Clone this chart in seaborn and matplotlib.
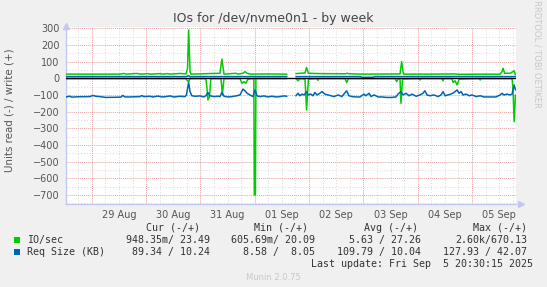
import numpy as np
import pandas as pd
import matplotlib
matplotlib.use('Agg')
import matplotlib.pyplot as plt
import seaborn as sns
from matplotlib.ticker import MultipleLocator, FixedLocator
from matplotlib.patches import Rectangle

# time axis: hours since 28 Aug 00:00, NaN marks the data gap on 01 Sep
io_write_t = [12.6, 36.4, 38.2, 39.1, 43.9, 45.7, 48.8, 49.7, 54.1, 55.0, 57.6, 58.5,
              62.1, 62.9, 65.6, 66.3, 66.8, 67.4, 67.8, 80.6, 81.5, 82.4, 87.7, 88.6,
              90.8, 91.7, 92.6, 93.9, 102.7, 108.5, 110.2, 112.0,
              114.2, 116.0, 118.2, 118.9, 119.7, 124.8, 135.9, 136.8, 137.6, 143.4,
              160.2, 160.9, 161.7, 173.4, 184.5, 185.8, 204.4, 205.3, 205.7, 206.4,
              208.8, 210.1, 210.6, 211.2]
io_write = [25, 25, 29, 25, 29, 25, 28, 25, 28, 25, 28, 25,
            28, 29, 26, 60, 290, 40, 25, 30, 115, 25, 30, 25,
            30, 40, 30, 25, 26, 25, 25, np.nan,
            28, 30, 32, 65, 30, 28, 27, 30, 27, 25,
            26, 100, 25, 25, 26, 24, 25, 40, 60, 30,
            30, 40, 45, 20]

io_read_t = [12.6, 65.6, 66.3, 66.8, 67.4, 74.4, 74.9, 75.3, 76.0, 76.6, 81.1, 81.7,
             82.4, 89.5, 90.3, 91.2, 92.1, 93.0, 95.6, 95.8, 96.3, 96.5, 110.2, 112.0,
             114.2, 115.1, 116.0, 118.2, 118.9, 119.7, 123.5, 123.9, 124.4, 135.9,
             136.6, 137.4, 158.0, 158.7, 159.3, 160.2, 160.6, 161.3, 168.6, 169.0,
             169.5, 178.7, 179.2, 179.6, 183.2, 183.6, 184.5, 185.4, 186.3, 195.1,
             195.6, 196.0, 209.7, 210.1, 210.6, 211.2]
io_read = [-2, -2, -15, -20, -2, -2, -60, -130, -110, -2, -2, -100,
           -2, -2, -30, -20, -30, -5, -2, -700, -700, -2, -2, np.nan,
           -2, -15, -2, -5, -190, -5, -2, -12, -2, -2,
           -25, -2, -2, -20, -2, -5, -150, -5, -2, -10,
           -2, -2, -15, -2, -2, -25, -15, -40, -5, -2,
           -10, -2, -2, -60, -260, -100]

req_write_t = [12.6, 65.6, 66.8, 67.4, 110.2, 112.0, 114.2, 142.5, 143.4, 148.2, 149.1, 211.2]
req_write = [10, 10, 15, 10, 10, np.nan, 10, 10, 6, 6, 10, 10]

req_read_t = [12.6, 14.3, 15.2, 17.9, 23.2, 24.5, 25.8, 27.6, 30.2, 34.2, 36.9, 37.7,
              38.6, 40.8, 45.3, 46.1, 47.0, 49.7, 51.0, 53.2, 55.0, 56.8, 58.5, 60.3,
              62.9, 65.2, 65.8, 66.8, 67.4, 68.2, 69.6, 71.8, 73.5, 74.4, 75.3, 76.2,
              78.0, 79.7, 80.6, 81.5, 82.4, 84.2, 85.9, 87.7, 89.5, 90.8, 91.7, 92.6,
              93.9, 95.2, 96.1, 97.0, 98.3, 100.1, 101.8, 103.6, 105.4, 107.1, 108.9,
              110.2, 112.0,
              114.2, 115.1, 116.0, 116.9, 117.8, 118.9, 119.5, 120.8, 121.7, 122.6,
              123.5, 124.8, 125.7, 127.0, 128.4, 129.7, 131.0, 132.8, 134.5, 136.6,
              137.6, 139.0, 140.7, 142.5, 144.3, 145.1, 146.5, 147.4, 148.7, 150.5,
              152.2, 154.0, 156.6, 158.4, 159.3, 160.6, 161.5, 162.8, 164.2, 165.5,
              167.3, 169.0, 170.3, 171.2, 172.1, 173.4, 175.2, 177.0, 178.3, 179.2,
              180.1, 181.4, 182.7, 184.1, 185.4, 186.3, 187.2, 188.0, 189.4, 190.7,
              192.0, 193.8, 195.6, 197.3, 200.0, 202.6, 204.4, 205.3, 206.1, 207.5,
              208.8, 209.7, 210.6, 211.2]
req_read = [-112, -108, -113, -111, -110, -103, -108, -110, -115, -114, -113, -103,
            -112, -112, -110, -104, -110, -108, -112, -107, -112, -110, -106, -112,
            -108, -110, -100, -25, -80, -105, -108, -106, -112, -105, -85, -105,
            -110, -108, -110, -85, -108, -112, -110, -106, -100, -65, -75, -90,
            -100, -110, -70, -105, -110, -106, -112, -108, -112, -110, -106,
            -108, np.nan,
            -105, -90, -105, -95, -100, -80, -100, -95, -105, -85,
            -100, -90, -80, -95, -100, -105, -110, -100, -110, -75,
            -105, -110, -112, -112, -95, -105, -90, -110, -100, -112,
            -112, -115, -115, -112, -95, -80, -100, -90, -105, -95,
            -108, -100, -90, -75, -100, -105, -100, -110, -100, -80,
            -105, -100, -95, -85, -70, -90, -80, -100, -95, -105,
            -100, -110, -105, -112, -112, -112, -100, -90, -100, -95,
            -100, -95, -40, -70]

day_labels = ['29 Aug', '30 Aug', '31 Aug', '01 Sep', '02 Sep', '03 Sep', '04 Sep', '05 Sep']
label_hours = [36, 60, 84, 108, 132, 156, 180, 204]

legend_names = ['IO/sec', 'Req Size (KB)']
cur_vals = ['948.35m/ 23.49', '89.34 / 10.24']
min_vals = ['605.69m/ 20.09', '8.58 /  8.05']
avg_vals = ['5.63 / 27.26', '109.79 / 10.04']
max_vals = ['2.60k/670.13', '127.93 / 42.07']

GREEN = '#00cc00'
BLUE = '#0066b3'

sns.set_style('white')
plt.rcParams['font.family'] = ['DejaVu Sans']


def frame(t, v):
    df = pd.DataFrame({'hours': t, 'value': v})
    df['seg'] = df['value'].isna().cumsum()
    return df.dropna()


W, H = 547, 287
fig = plt.figure(figsize=(W / 100, H / 100), dpi=100, facecolor='#f0f0f0')
ax = fig.add_axes([66 / W, 1 - 204 / H, (515.7 - 66) / W, (204 - 27) / H])
ax.set_facecolor('white')

for t, v, c in [(io_write_t, io_write, GREEN), (io_read_t, io_read, GREEN),
                (req_write_t, req_write, BLUE), (req_read_t, req_read, BLUE)]:
    sns.lineplot(data=frame(t, v), x='hours', y='value', units='seg', estimator=None,
                 color=c, lw=1.1, ax=ax, legend=False, zorder=3)

ax.axhline(0, color='black', lw=1.0, zorder=4)

ax.set_xlim(12.6, 211.3)
ax.set_ylim(-755, 308)
ax.set_xlabel('')
ax.set_ylabel('')

# grids: red at day / 100 units, grey at 6h / 50 units
ax.xaxis.set_major_locator(MultipleLocator(24))
ax.xaxis.set_minor_locator(MultipleLocator(6))
ax.yaxis.set_major_locator(MultipleLocator(100))
ax.yaxis.set_minor_locator(MultipleLocator(50))
ax.set_axisbelow(True)
ax.grid(which='minor', color='#d8d8d8', lw=0.7, ls=(0, (1, 2)))
ax.grid(which='major', color='#e8a0a0', lw=0.7, ls=(0, (1, 1)))
ax.tick_params(axis='x', which='major', length=3, color='#e08080', labelbottom=False)
ax.tick_params(axis='x', which='minor', length=2, color='#c8c8c8')
ax.tick_params(axis='y', which='both', length=0, labelsize=7, labelcolor='#555555', pad=4.5)

sec = ax.secondary_xaxis('bottom')
sec.xaxis.set_major_locator(FixedLocator(label_hours))
sec.set_xticklabels(day_labels)
sec.tick_params(length=0, labelsize=7, labelcolor='#555555', pad=4)
sec.spines['bottom'].set_visible(False)

for s in ['top', 'right']:
    ax.spines[s].set_visible(False)
for s in ['left', 'bottom']:
    ax.spines[s].set_color('#c4c8f0')
    ax.spines[s].set_linewidth(1)
ax.plot([0], [1.005], marker='^', ms=4, color='#c4c8f0', transform=ax.transAxes, clip_on=False)
ax.plot([1.012], [0], marker='>', ms=4, color='#c4c8f0', transform=ax.transAxes, clip_on=False)


def px(x, y):
    return x / W, 1 - y / H


fig.text(*px(273.5, 22), 'IOs for /dev/nvme0n1 - by week', ha='center', va='baseline',
         fontsize=9, color='#444444')
fig.text(*px(10, 110), 'Units read (-) / write (+)', rotation=90, ha='center', va='center',
         fontsize=7.4, color='#555555')
fig.text(*px(537, 54), 'RRDTOOL / TOBI OETIKER', rotation=270, ha='center', va='center',
         fontsize=6, color='#c8c8c8')

mono = dict(family='DejaVu Sans Mono', fontsize=7.2, color='#333333', va='center')
fig.text(*px(200, 228), 'Cur (-/+)', ha='right', **mono)
fig.text(*px(308, 228), 'Min (-/+)', ha='right', **mono)
fig.text(*px(418, 228), 'Avg (-/+)', ha='right', **mono)
fig.text(*px(527, 228), 'Max (-/+)', ha='right', **mono)
for i, (name, color) in enumerate(zip(legend_names, [GREEN, BLUE])):
    y = 240 + 12 * i
    fig.add_artist(Rectangle(px(14, y + 3), 6 / W, 6 / H, transform=fig.transFigure,
                             facecolor=color, edgecolor='none'))
    fig.text(*px(27, y), name, ha='left', **mono)
    fig.text(*px(210, y), cur_vals[i], ha='right', **mono)
    fig.text(*px(315, y), min_vals[i], ha='right', **mono)
    fig.text(*px(421, y), avg_vals[i], ha='right', **mono)
    fig.text(*px(527, y), max_vals[i], ha='right', **mono)
fig.text(*px(533, 264), 'Last update: Fri Sep  5 20:30:15 2025', ha='right', **mono)
fig.text(*px(273, 277), 'Munin 2.0.75', ha='center', va='center', fontsize=6, color='#c8c8c8')

fig.savefig('out.png', dpi=100, facecolor=fig.get_facecolor())
